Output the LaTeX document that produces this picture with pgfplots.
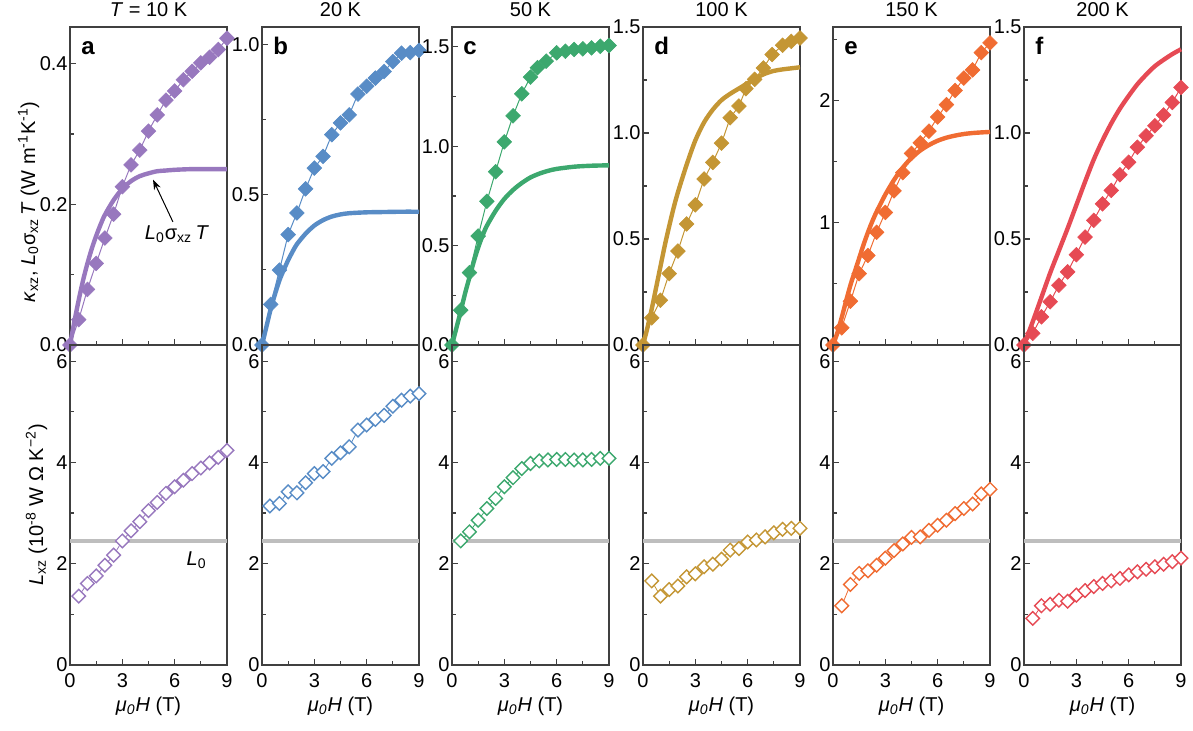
\documentclass[border=0pt]{standalone}
\usepackage{pgfplots}
\pgfplotsset{compat=1.18}
\usepackage{fontspec}
\setmainfont{Liberation Sans}
\usetikzlibrary{arrows.meta}
\definecolor{ca}{RGB}{152,120,190}
\definecolor{cb}{RGB}{88,140,198}
\definecolor{cc}{RGB}{60,168,110}
\definecolor{cd}{RGB}{196,150,52}
\definecolor{ce}{RGB}{240,108,50}
\definecolor{cf}{RGB}{230,74,84}
\definecolor{axgray}{RGB}{64,64,64}
\definecolor{lgray}{RGB}{190,190,190}
\pgfplotsset{
  panel/.style={
    scale only axis, width=78.5pt, clip=false,
    xmin=0, xmax=9,
    xtick={0,3,6,9}, minor xtick={1.5,4.5,7.5},
    tick align=inside, tick pos=left,
    major tick length=3pt, minor tick length=2pt,
    axis line style={draw=axgray, line width=0.6pt},
    every tick/.style={draw=axgray, line width=0.6pt},
    tick label style={font=\fontsize{10}{12}\selectfont, text=black},
    /pgf/number format/assume math mode=true,
    yticklabel style={anchor=east, inner xsep=1pt, inner ysep=0pt},
    xticklabel style={anchor=base, yshift=-11.5pt},
    anchor=north west,
  },
  top/.style={panel, height=159pt, xticklabels={}, ymin=0,
    yticklabel style={/pgf/number format/fixed, /pgf/number format/fixed zerofill, /pgf/number format/precision=1}},
  bot/.style={panel, height=160pt, ymin=0, ymax=6.32, ytick={0,2,4,6}, minor ytick={1,3,5}},
  dia/.style={color=#1, line width=0.5pt, mark=square*, mark size=2.6pt, mark options={rotate=45, solid, fill=#1, line width=0.3pt}},
  odia/.style={color=#1, line width=0.4pt, mark=square*, mark size=2.4pt, mark options={rotate=45, solid, fill=white, line width=0.7pt}},
  curve/.style={color=#1, line width=2.2pt, smooth, no markers},
  lzero/.style={lgray, line width=2pt, no markers},
}
\newcommand{\ttl}[1]{\node[anchor=base, font=\fontsize{10}{12}\selectfont, yshift=5pt] at (rel axis cs:0.5,1) {#1};}
\newcommand{\plet}[1]{\node[anchor=base west, inner sep=0pt, font=\bfseries\fontsize{12}{12}\selectfont, xshift=5.5pt, yshift=-14pt] at (rel axis cs:0,1) {#1};}
\newcommand{\xlab}{\node[anchor=base, font=\fontsize{10}{12}\selectfont, yshift=-23.5pt] at (rel axis cs:0.5,0) {\textit{μ\textsubscript{0}H} (T)};}
\begin{document}
\begin{tikzpicture}
\path[use as bounding box] (0,0) rectangle (596.5pt,-365.5pt);
% ---------- a ----------
\begin{axis}[top, at={(35pt,-13.5pt)}, ymax=0.452, ytick={0,0.2,0.4}, minor ytick={0.1,0.3}]
\addplot[curve=ca] coordinates {(0,0) (0.25,0.033) (0.5,0.064) (0.75,0.092) (1,0.116) (1.25,0.137) (1.5,0.155) (1.75,0.171) (2,0.185) (2.5,0.206) (3,0.222) (3.5,0.233) (4,0.240) (4.5,0.244) (5,0.247) (5.5,0.248) (6,0.249) (7,0.250) (8,0.250) (9,0.250)};
\addplot[dia=ca] coordinates {(0,0) (0.5,0.036) (1,0.079) (1.5,0.116) (2,0.152) (2.5,0.186) (3,0.225) (3.5,0.256) (4,0.277) (4.5,0.304) (5,0.327) (5.5,0.348) (6,0.361) (6.5,0.377) (7,0.389) (7.5,0.401) (8,0.409) (8.5,0.420) (9,0.436)};
\draw[-{Stealth[length=5pt,width=3.5pt]}, line width=0.5pt] (axis cs:5.9,0.175) -- (axis cs:4.76,0.235);
\node[font=\fontsize{10}{12}\selectfont] at (axis cs:6.13,0.158) {\textit{L}\textsubscript{0}σ\textsubscript{xz}\,\textit{T}};
\ttl{\textit{T} = 10 K}
\plet{a}
\end{axis}
\begin{axis}[bot, at={(35pt,-172.5pt)}]
\addplot[lzero] coordinates {(0,2.44) (9,2.44)};
\addplot[odia=ca] coordinates {(0.5,1.36) (1,1.61) (1.5,1.76) (2,1.97) (2.5,2.17) (3,2.45) (3.5,2.65) (4,2.83) (4.5,3.05) (5,3.21) (5.5,3.39) (6,3.52) (6.5,3.65) (7,3.78) (7.5,3.89) (8,3.99) (8.5,4.10) (9,4.24)};
\node[font=\fontsize{10}{12}\selectfont] at (axis cs:7.26,2.07) {\textit{L}\textsubscript{0}};
\xlab
\end{axis}
% ---------- b ----------
\begin{axis}[top, at={(131pt,-13.5pt)}, ymax=1.057, ytick={0,0.5,1}, minor ytick={0.25,0.75}]
\addplot[curve=cb] coordinates {(0,0) (0.25,0.06) (0.5,0.12) (0.75,0.17) (1,0.215) (1.25,0.25) (1.5,0.282) (1.75,0.31) (2,0.335) (2.5,0.37) (3,0.397) (3.5,0.415) (4,0.427) (4.5,0.434) (5,0.438) (6,0.441) (7,0.442) (8,0.443) (9,0.443)};
\addplot[dia=cb] coordinates {(0,0) (0.5,0.135) (1,0.249) (1.5,0.367) (2,0.439) (2.5,0.519) (3,0.588) (3.5,0.627) (4,0.699) (4.5,0.738) (5,0.765) (5.5,0.834) (6,0.860) (6.5,0.887) (7,0.909) (7.5,0.942) (8,0.970) (8.5,0.972) (9,0.979)};
\ttl{20 K}
\plet{b}
\end{axis}
\begin{axis}[bot, at={(131pt,-172.5pt)}]
\addplot[lzero] coordinates {(0,2.44) (9,2.44)};
\addplot[odia=cb] coordinates {(0.45,3.14) (1,3.19) (1.5,3.42) (2,3.40) (2.5,3.60) (3,3.78) (3.5,3.82) (4,4.08) (4.5,4.19) (5,4.31) (5.5,4.64) (6,4.74) (6.5,4.85) (7,4.93) (7.5,5.11) (8,5.23) (8.5,5.31) (9,5.36)};
\xlab
\end{axis}
% ---------- c ----------
\begin{axis}[top, at={(226pt,-13.5pt)}, ymax=1.6, ytick={0,0.5,1,1.5}, minor ytick={0.25,0.75,1.25}]
\addplot[curve=cc] coordinates {(0,0) (0.25,0.085) (0.5,0.17) (0.75,0.26) (1,0.34) (1.25,0.42) (1.5,0.49) (1.75,0.55) (2,0.60) (2.5,0.675) (3,0.735) (3.5,0.78) (4,0.815) (4.5,0.843) (5,0.862) (5.5,0.876) (6,0.886) (7,0.897) (8,0.902) (9,0.904)};
\addplot[dia=cc] coordinates {(0,0) (0.5,0.175) (1,0.364) (1.5,0.548) (2,0.723) (2.5,0.872) (3,1.022) (3.5,1.153) (4,1.264) (4.5,1.348) (4.9,1.395) (5.4,1.428) (6,1.47) (6.5,1.478) (7,1.487) (7.5,1.49) (8,1.495) (8.5,1.503) (9,1.507)};
\ttl{50 K}
\plet{c}
\end{axis}
\begin{axis}[bot, at={(226pt,-172.5pt)}]
\addplot[lzero] coordinates {(0,2.44) (9,2.44)};
\addplot[odia=cc] coordinates {(0.5,2.45) (1,2.63) (1.5,2.86) (2,3.09) (2.5,3.29) (3,3.52) (3.5,3.70) (4,3.88) (4.5,3.98) (5,4.03) (5.5,4.05) (6,4.06) (6.5,4.06) (7,4.05) (7.5,4.05) (8,4.06) (8.5,4.08) (9,4.08)};
\xlab
\end{axis}
% ---------- d ----------
\begin{axis}[top, at={(321.5pt,-13.5pt)}, ymax=1.5, ytick={0,0.5,1,1.5}, minor ytick={0.25,0.75,1.25}]
\addplot[curve=cd] coordinates {(0,0) (0.25,0.08) (0.5,0.17) (0.75,0.27) (1,0.37) (1.25,0.47) (1.5,0.56) (1.75,0.645) (2,0.72) (2.5,0.85) (3,0.965) (3.5,1.05) (4,1.11) (4.5,1.155) (5,1.185) (5.5,1.21) (6,1.235) (6.5,1.26) (7,1.28) (7.5,1.293) (8,1.3) (8.5,1.305) (9,1.31)};
\addplot[dia=cd] coordinates {(0,0) (0.5,0.128) (1,0.211) (1.5,0.337) (2,0.443) (2.5,0.571) (3,0.661) (3.5,0.783) (4,0.861) (4.5,0.952) (5,1.072) (5.5,1.127) (5.9,1.209) (6.4,1.253) (6.9,1.307) (7.4,1.37) (8,1.414) (8.5,1.432) (9,1.448)};
\ttl{100 K}
\plet{d}
\end{axis}
\begin{axis}[bot, at={(321.5pt,-172.5pt)}]
\addplot[lzero] coordinates {(0,2.44) (9,2.44)};
\addplot[odia=cd] coordinates {(0.5,1.66) (1,1.36) (1.5,1.49) (2,1.56) (2.5,1.74) (3,1.80) (3.5,1.94) (4,1.99) (4.5,2.09) (5,2.27) (5.5,2.30) (6,2.43) (6.5,2.47) (7,2.53) (7.5,2.61) (8,2.68) (8.5,2.70) (9,2.70)};
\xlab
\end{axis}
% ---------- e ----------
\begin{axis}[top, at={(416.5pt,-13.5pt)}, ymax=2.6, ytick={0,1,2}, minor ytick={0.5,1.5,2.5}, yticklabel style={/pgf/number format/precision=0, /pgf/number format/fixed zerofill=false}]
\addplot[curve=ce] coordinates {(0,0) (0.25,0.1) (0.5,0.225) (0.75,0.36) (1,0.49) (1.25,0.6) (1.5,0.71) (1.75,0.82) (2,0.92) (2.25,1.01) (2.5,1.09) (2.75,1.16) (3,1.23) (3.5,1.35) (4,1.45) (4.5,1.53) (5,1.59) (5.5,1.635) (6,1.67) (6.5,1.695) (7,1.712) (7.5,1.725) (8,1.733) (8.5,1.738) (9,1.742)};
\addplot[dia=ce] coordinates {(0,0) (0.5,0.141) (1,0.358) (1.5,0.583) (2,0.732) (2.5,0.921) (3,1.084) (3.5,1.26) (4,1.409) (4.5,1.566) (5,1.653) (5.5,1.748) (6,1.864) (6.5,1.965) (7,2.081) (7.5,2.182) (8,2.249) (8.5,2.39) (9,2.47)};
\ttl{150 K}
\plet{e}
\end{axis}
\begin{axis}[bot, at={(416.5pt,-172.5pt)}]
\addplot[lzero] coordinates {(0,2.44) (9,2.44)};
\addplot[odia=ce] coordinates {(0.5,1.17) (1,1.59) (1.5,1.81) (2,1.86) (2.5,1.97) (3,2.11) (3.5,2.26) (4,2.39) (4.5,2.52) (5,2.53) (5.5,2.66) (6,2.76) (6.5,2.86) (7,2.99) (7.5,3.09) (8,3.18) (8.5,3.38) (9,3.47)};
\xlab
\end{axis}
% ---------- f ----------
\begin{axis}[top, at={(512pt,-13.5pt)}, ymax=1.5, ytick={0,0.5,1,1.5}, minor ytick={0.25,0.75,1.25}]
\addplot[curve=cf] coordinates {(0,0) (0.5,0.11) (1,0.225) (1.5,0.34) (2,0.445) (2.5,0.55) (3,0.66) (3.5,0.77) (4,0.875) (4.5,0.965) (5,1.045) (5.5,1.115) (6,1.175) (6.5,1.23) (7,1.275) (7.5,1.315) (8,1.345) (8.5,1.372) (9,1.395)};
\addplot[dia=cf] coordinates {(0,0) (0.5,0.055) (1,0.133) (1.5,0.204) (2,0.282) (2.5,0.345) (3,0.426) (3.5,0.509) (4,0.588) (4.5,0.666) (5,0.729) (5.5,0.803) (6,0.862) (6.5,0.933) (7,0.987) (7.5,1.034) (8,1.085) (8.5,1.144) (9,1.215)};
\ttl{200 K}
\plet{f}
\end{axis}
\begin{axis}[bot, at={(512pt,-172.5pt)}]
\addplot[lzero] coordinates {(0,2.44) (9,2.44)};
\addplot[odia=cf] coordinates {(0.5,0.92) (1,1.17) (1.5,1.20) (2,1.28) (2.5,1.26) (3,1.38) (3.5,1.47) (4,1.55) (4.5,1.61) (5,1.66) (5.5,1.71) (6,1.78) (6.5,1.84) (7,1.89) (7.5,1.94) (8,1.99) (8.5,2.04) (9,2.11)};
\xlab
\end{axis}
% y labels
\node[rotate=90, anchor=base, font=\fontsize{10}{12}\selectfont] at (17.5pt,-101pt) {\textit{κ}\textsubscript{xz}, \textit{L}\textsubscript{0}σ\textsubscript{xz}\,\textit{T} (W m\textsuperscript{-1}K\textsuperscript{-1})};
\node[rotate=90, anchor=base, font=\fontsize{10}{12}\selectfont] at (21.5pt,-252.5pt) {\textit{L}\textsubscript{xz} (10\textsuperscript{-8} W Ω K\textsuperscript{−2})};
\end{tikzpicture}
\end{document}
